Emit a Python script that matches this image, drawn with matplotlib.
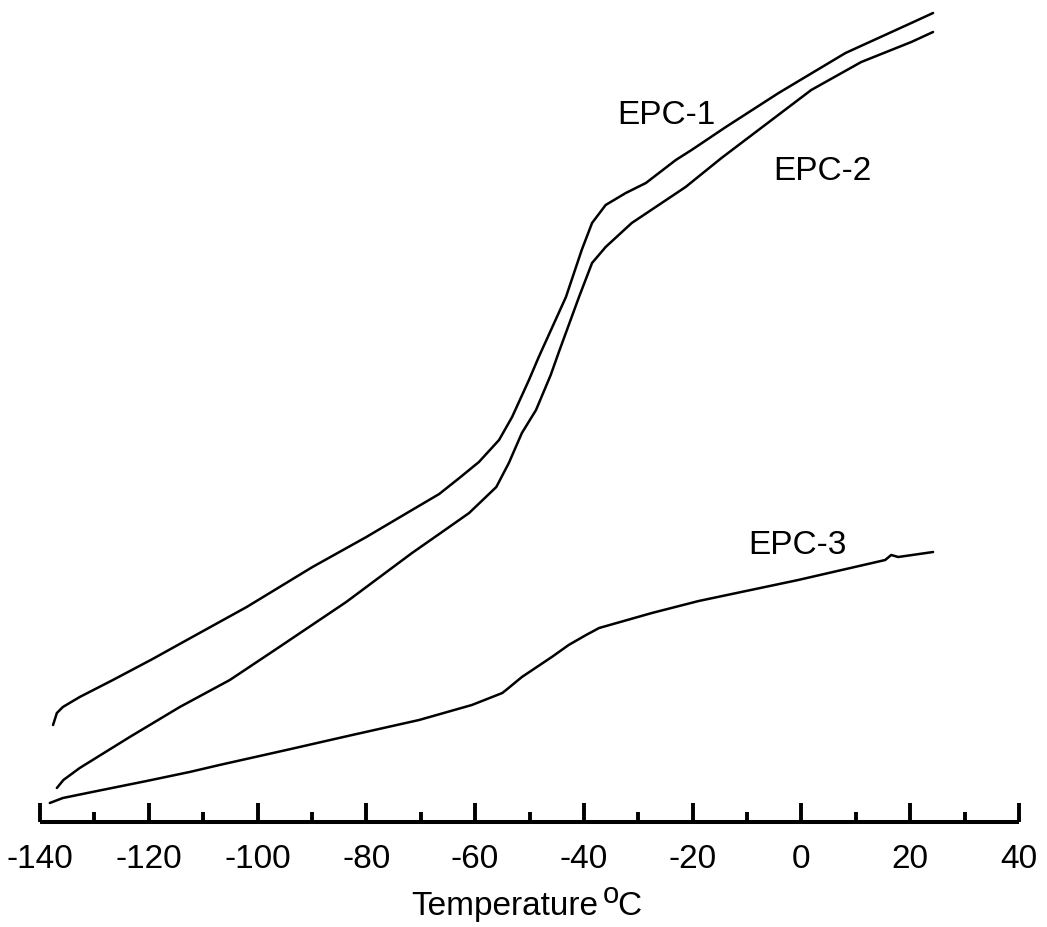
import numpy as np
import matplotlib.pyplot as plt
from matplotlib.ticker import MultipleLocator

plt.rcParams['font.family'] = ['Liberation Sans', 'DejaVu Sans']
plt.rcParams['axes.unicode_minus'] = False

##################################
# DSC traces (heat flow in arbitrary units)
##################################

t_epc1 = [-137.6, -136.9, -135.8, -132.7, -126.6, -119.3, -113.0, -102.0, -89.9, -80.0,
          -71.6, -66.6, -62.9, -59.3, -55.6, -53.2, -50.1, -48.3, -43.3, -40.4,
          -38.5, -36.0, -32.3, -28.6, -23.1, -20.2, -13.9, -4.2, 8.1, 20.2, 24.2]
hf_epc1 = [97, 109, 115, 125, 142, 163, 182, 215, 255, 285,
           312, 328, 344, 360, 382, 405, 442, 465, 525, 572,
           599, 617, 629, 639, 662, 672, 695, 729, 769, 799, 809]

t_epc2 = [-136.9, -135.7, -132.7, -123.5, -114.3, -105.1, -96.0, -83.7, -71.6, -66.6,
          -61.1, -56.1, -53.8, -51.4, -48.8, -46.1, -44.6, -40.9, -38.5, -36.0,
          -31.2, -26.8, -21.3, -14.7, 1.8, 11.0, 20.2, 24.2]
hf_epc2 = [34, 42, 54, 85, 115, 142, 175, 220, 269, 288,
           309, 335, 359, 389, 412, 447, 470, 525, 559, 575,
           599, 615, 635, 664, 732, 760, 780, 790]

t_epc3 = [-138.2, -135.8, -129.5, -120.4, -112.5, -107.0, -94.7, -82.6, -70.3, -60.6,
          -55.0, -54.3, -51.4, -45.9, -42.8, -39.6, -37.2, -27.5, -18.9, -0.6,
          15.4, 16.5, 17.8, 24.2]
hf_epc3 = [19, 24, 31, 41, 50, 57, 72, 87, 102, 117,
           129, 132, 145, 165, 177, 187, 194, 209, 221, 242,
           262, 267, 265, 270]

labels = ['EPC-1', 'EPC-2', 'EPC-3']
label_pos = [(-24.9, 707), (3.9, 651), (-0.7, 277)]

#######################################
# Plot
#######################################

W, H = 1047, 927
fig = plt.figure(figsize=(W / 100, H / 100), dpi=100)
ax = fig.add_axes([40 / W, 105 / H, 979 / W, 822 / H])

for t, hf in [(t_epc1, hf_epc1), (t_epc2, hf_epc2), (t_epc3, hf_epc3)]:
    ax.plot(t, hf, color='black', lw=1.8, solid_capstyle='round', solid_joinstyle='round')

for lab, (x, y) in zip(labels, label_pos):
    ax.text(x, y, lab, fontsize=24, ha='center', va='center')

ax.set_xlim(-140, 40)
ax.set_ylim(0, 822)
ax.xaxis.set_major_locator(MultipleLocator(20))
ax.xaxis.set_minor_locator(MultipleLocator(10))
ax.tick_params(axis='x', which='major', direction='in', length=14, width=2.8,
               labelsize=24, pad=16)
ax.tick_params(axis='x', which='minor', direction='in', length=7, width=2.8)
ax.set_yticks([])
for s in ['top', 'left', 'right']:
    ax.spines[s].set_visible(False)
ax.spines['bottom'].set_linewidth(2.9)
ax.spines['bottom'].set_capstyle('butt')

# axis title with a raised "o"
fig.text(411 / W, 1 - 915 / H, 'Temperature', fontsize=24, ha='left', va='baseline')
fig.text(603 / W, 1 - 903 / H, 'o', fontsize=21, ha='left', va='baseline')
fig.text(617 / W, 1 - 915 / H, 'C', fontsize=24, ha='left', va='baseline')

fig.savefig('out.png', dpi=100)
